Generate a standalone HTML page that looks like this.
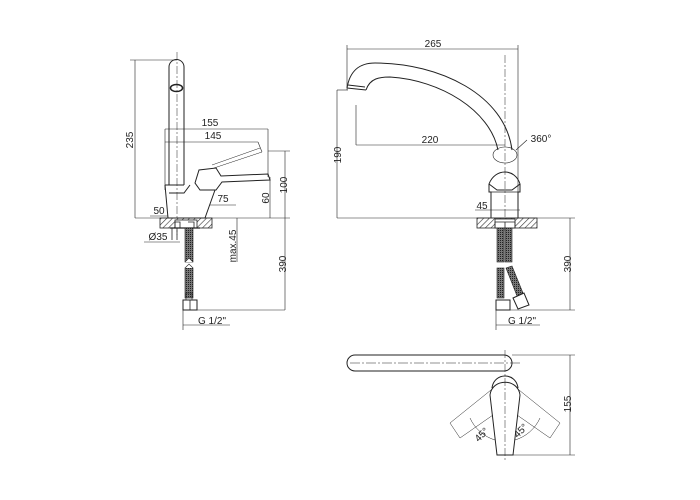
<!DOCTYPE html>
<html><head><meta charset="utf-8"><style>
html,body{margin:0;padding:0;background:#fff;width:700px;height:500px;overflow:hidden}
svg{display:block}
text{font-family:"Liberation Sans",sans-serif;font-size:10px;fill:#222}
</style></head><body>
<svg width="700" height="500" viewBox="0 0 700 500" xmlns="http://www.w3.org/2000/svg">
<defs>
<pattern id="h" width="4" height="4" patternUnits="userSpaceOnUse" patternTransform="rotate(45)">
<line x1="0" y1="0" x2="0" y2="4" stroke="#333" stroke-width="1.2"/></pattern>
<pattern id="hose" width="2" height="2" patternUnits="userSpaceOnUse">
<rect width="2" height="2" fill="#777"/><rect width="1" height="1" fill="#222"/></pattern>
</defs>
<g fill="none" stroke="#222" stroke-width="0.8">
<!-- LEFT VIEW -->
<line x1="135" y1="60" x2="135" y2="218" stroke-width="0.6"/>
<line x1="130" y1="60" x2="177" y2="60" stroke-width="0.6"/>
<line x1="135" y1="218" x2="290" y2="218" stroke-width="0.6"/>
<path d="M169 185 V67 A7.5 7.5 0 0 1 184 67 V185" stroke-width="1"/>
<ellipse cx="176.5" cy="88" rx="6" ry="3.5" stroke-width="1.5"/>
<line x1="177" y1="52" x2="177" y2="235" stroke-dasharray="8,2,2,2" stroke-width="0.5"/>
<line x1="165" y1="129" x2="268" y2="129" stroke-width="0.6"/>
<line x1="165" y1="129" x2="165" y2="190" stroke-width="0.6"/>
<line x1="268" y1="129" x2="268" y2="177" stroke-width="0.6"/>
<line x1="165" y1="142" x2="258" y2="142" stroke-width="0.6"/>
<line x1="258" y1="142" x2="262" y2="152" stroke-width="0.6"/>
<path d="M262 152 L214 168 M260 148 L212 165" stroke-width="0.5"/>
<path d="M165 185 H184 M169 193 H184 L190 185" stroke-width="1"/>
<path d="M165 185 L168 218 H205 L215 190" stroke-width="1"/>
<path d="M195 183 L199 170 L216 168 L221 176 L268 174 L270 180 L222 182 L216 190 L200 190 Z" stroke-width="1"/>
<line x1="210" y1="205" x2="236" y2="205" stroke-width="0.6"/>
<line x1="150" y1="216" x2="168" y2="216" stroke-width="0.6"/>
<line x1="270" y1="177" x2="270" y2="218" stroke-width="0.6"/>
<line x1="268" y1="151" x2="290" y2="151" stroke-width="0.6"/>
<line x1="285" y1="151" x2="285" y2="310" stroke-width="0.6"/>
<rect x="160" y="218" width="52" height="10" fill="url(#h)" stroke-width="0.8"/>
<rect x="175" y="220" width="22" height="8" fill="#fff"/>
<path d="M175 228 V222 H180 V228 M188 222 H194 V228" />
<line x1="170" y1="228" x2="200" y2="228" stroke-width="1.2"/>
<line x1="177" y1="228" x2="177" y2="240"/>
<line x1="172" y1="228" x2="172" y2="240"/>
<line x1="144" y1="242" x2="180" y2="242" stroke-width="0.6"/>
<line x1="237" y1="218" x2="237" y2="262" stroke-width="0.6"/>
<rect x="185" y="228" width="8" height="34" fill="url(#hose)" stroke-width="0.6"/>
<path d="M185 262 L189 258 L193 262" fill="#fff" stroke-width="0.6"/>
<rect x="185" y="268" width="8" height="30" fill="url(#hose)" stroke-width="0.6"/>
<path d="M185 268 L189 264 L193 268" fill="#fff" stroke-width="0.6"/>
<rect x="186" y="293" width="6" height="7" stroke-width="0.6"/>
<rect x="183" y="300" width="14" height="10" stroke-width="1"/>
<line x1="190" y1="300" x2="190" y2="310"/>
<line x1="183" y1="310" x2="183" y2="330" stroke-width="0.6"/>
<line x1="197" y1="310" x2="285" y2="310" stroke-width="0.6"/>
<line x1="183" y1="325" x2="230" y2="325" stroke-width="0.6"/>
<!-- MIDDLE VIEW -->
<line x1="347" y1="45" x2="347" y2="90" stroke-width="0.6"/>
<line x1="518" y1="45" x2="518" y2="218" stroke-width="0.6"/>
<line x1="347" y1="49" x2="518" y2="49" stroke-width="0.6"/>
<path d="M347 88 C350 70 360 63 375 63 C440 63 505 95 512 150" stroke-width="1"/>
<path d="M366 90 C370 78 380 77 390 77 C440 80 490 110 498 150" stroke-width="1"/>
<path d="M347 88 L366 90 M348 85 L365 87" stroke-width="1"/>
<line x1="337" y1="90" x2="348" y2="90" stroke-width="0.6"/>
<line x1="337" y1="90" x2="337" y2="218" stroke-width="0.6"/>
<line x1="356" y1="105" x2="356" y2="145" stroke-width="0.6"/>
<line x1="356" y1="145" x2="505" y2="145" stroke-width="0.6"/>
<line x1="505" y1="55" x2="505" y2="232" stroke-dasharray="8,2,2,2" stroke-width="0.5"/>
<ellipse cx="505" cy="155" rx="12" ry="8" stroke-width="0.6"/>
<path d="M516 150 L527 140" stroke-width="0.6"/>
<path d="M489 184 C495 168 515 168 520 184 L512 190 H497 Z" stroke-width="1"/>
<path d="M489 184 V192 L491 192 V218 M520 184 V192 L518 192 V218" stroke-width="1"/>
<line x1="489" y1="192" x2="520" y2="192" stroke-width="0.8"/>
<line x1="475" y1="210" x2="520" y2="210" stroke-width="0.6"/>
<line x1="337" y1="218" x2="575" y2="218" stroke-width="0.6"/>
<rect x="477" y="218" width="60" height="10" fill="url(#h)"/>
<rect x="495" y="219" width="20" height="9" fill="#fff"/>
<path d="M495 228 V222 H515 V228 M505 222 V228"/>
<rect x="497" y="228" width="7" height="34" fill="url(#hose)" stroke-width="0.6"/>
<rect x="505" y="228" width="7" height="34" fill="url(#hose)" stroke-width="0.6"/>
<rect x="497" y="268" width="7" height="30" fill="url(#hose)" stroke-width="0.6"/>
<path d="M506 268 L512 266 L523 293 L517 296 Z" fill="url(#hose)" stroke-width="0.6"/>
<rect x="496" y="300" width="14" height="10" stroke-width="1"/>
<path d="M513 298 L524 293 L529 305 L518 309 Z" stroke-width="1"/>
<line x1="496" y1="310" x2="496" y2="330" stroke-width="0.6"/>
<line x1="510" y1="310" x2="575" y2="310" stroke-width="0.6"/>
<line x1="496" y1="325" x2="540" y2="325" stroke-width="0.6"/>
<line x1="570" y1="218" x2="570" y2="310" stroke-width="0.6"/>
<!-- BOTTOM VIEW -->
<rect x="347" y="355" width="165" height="16" rx="8" stroke-width="1"/>
<line x1="350" y1="363" x2="520" y2="363" stroke-dasharray="10,2,2,2" stroke-width="0.5"/>
<line x1="505" y1="350" x2="505" y2="460" stroke-dasharray="8,2,2,2" stroke-width="0.5"/>
<line x1="512" y1="355" x2="575" y2="355" stroke-width="0.6"/>
<line x1="513" y1="455" x2="575" y2="455" stroke-width="0.6"/>
<line x1="570" y1="355" x2="570" y2="455" stroke-width="0.6"/>
<path d="M492 388 C494 372 516 372 518 388" stroke-width="1"/>
<path d="M490 395 C492 378 518 378 520 395" stroke-width="1"/>
<path d="M490 395 L497 455 H513 L520 395" stroke-width="1"/>
<path d="M491 390 L450 423 L460 438 L493 415" stroke-width="0.5"/>
<path d="M519 390 L560 423 L550 438 L517 415" stroke-width="0.5"/>
<path d="M470 418 A40 40 0 0 0 495 440" stroke-width="0.5"/>
<path d="M540 418 A40 40 0 0 1 515 440" stroke-width="0.5"/>
</g>
<text x="210" y="126" text-anchor="middle">155</text>
<text x="213" y="139" text-anchor="middle">145</text>
<text x="223" y="202" text-anchor="middle">75</text>
<text x="159" y="214" text-anchor="middle">50</text>
<text x="158" y="240" text-anchor="middle">Ø35</text>
<text x="212" y="324" text-anchor="middle">G 1/2"</text>
<text transform="translate(133,140) rotate(-90)" text-anchor="middle">235</text>
<text transform="translate(287,185) rotate(-90)" text-anchor="middle">100</text>
<text transform="translate(269,198) rotate(-90)" text-anchor="middle">60</text>
<text transform="translate(236,246) rotate(-90)" text-anchor="middle">max.45</text>
<text transform="translate(286,264) rotate(-90)" text-anchor="middle">390</text>
<text x="433" y="47" text-anchor="middle">265</text>
<text x="430" y="143" text-anchor="middle">220</text>
<text x="541" y="142" text-anchor="middle">360°</text>
<text x="482" y="209" text-anchor="middle">45</text>
<text x="522" y="324" text-anchor="middle">G 1/2"</text>
<text transform="translate(341,155) rotate(-90)" text-anchor="middle">190</text>
<text transform="translate(571,264) rotate(-90)" text-anchor="middle">390</text>
<text transform="translate(571,404) rotate(-90)" text-anchor="middle">155</text>
<text transform="translate(484,437) rotate(-45)" text-anchor="middle" font-size="9">45°</text>
<text transform="translate(523,433) rotate(-45)" text-anchor="middle" font-size="9">45°</text>
</svg>
</body></html>
